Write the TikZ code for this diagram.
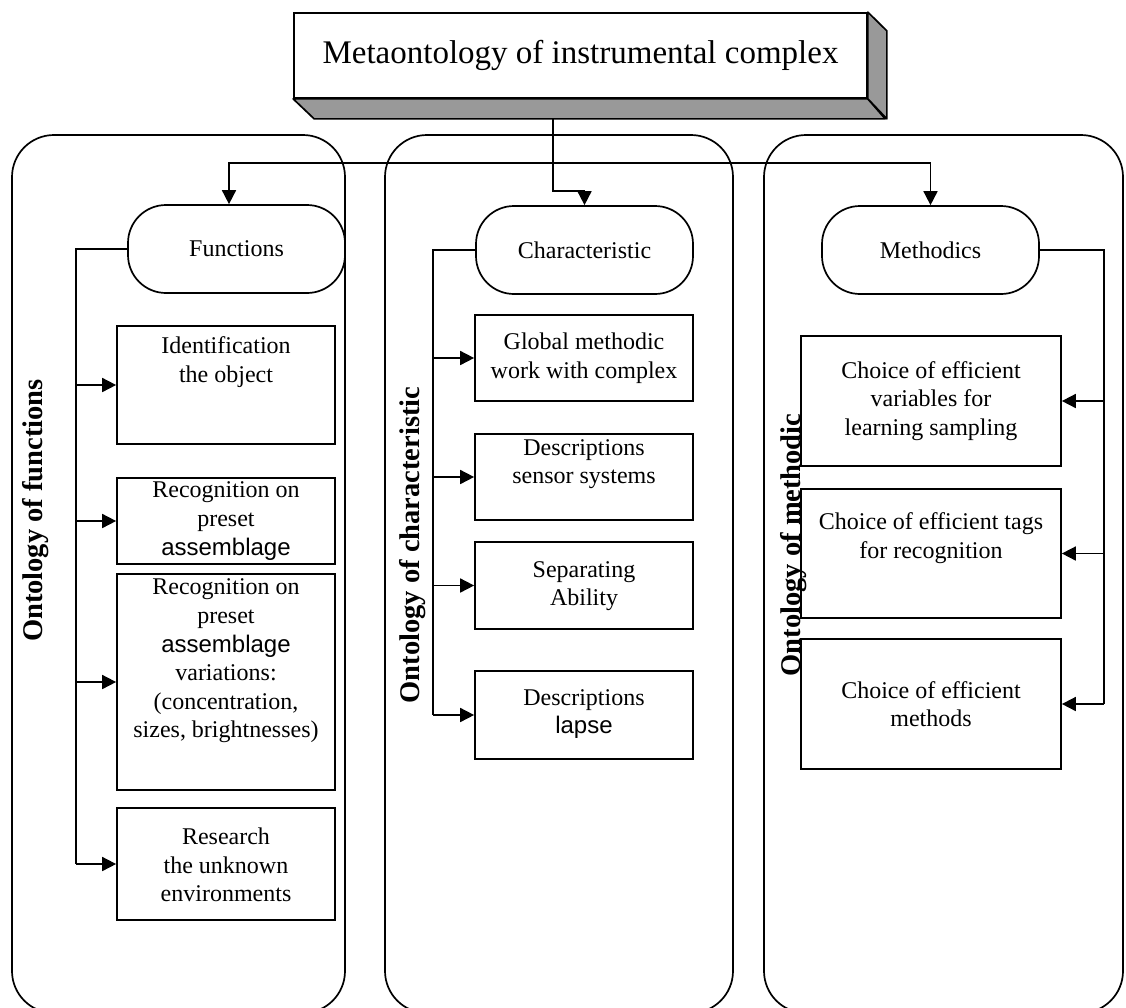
\documentclass[tikz,border=0pt]{standalone}
\usepackage{fontspec}
\setmainfont{Liberation Serif}
\newfontfamily\sansfam{Liberation Sans}
\usetikzlibrary{arrows.meta}
\definecolor{shade}{RGB}{153,153,153}
\tikzset{
  line/.style={line width=1.7pt},
  arr/.style={line, -{Triangle[length=14pt,width=14pt]}},
  frame/.style={line, rounded corners=42pt},
  boxnode/.style={draw, line width=1.7pt, inner sep=0pt},
  term/.style={draw, line width=1.7pt, rounded corners=38pt, minimum width=217pt,
    minimum height=88pt, inner sep=0pt, font=\fontsize{24}{28.6}\selectfont},
  txt/.style={align=center, inner sep=0pt, font=\fontsize{24}{28.6}\selectfont},
  vlabel/.style={rotate=90, anchor=base, inner sep=0pt,
    font=\fontsize{28.5}{34}\selectfont\bfseries},
}
\begin{document}
\begin{tikzpicture}[x=1pt,y=-1pt]
\path[use as bounding box] (0,0) rectangle (1126,1007);
\clip (0,0) rectangle (1126,1007);
\fill[white] (0,0) rectangle (1126,1007);

% three rounded column frames
\draw[frame] (12,135) rectangle (345,1013);
\draw[frame] (385,135) rectangle (733,1013);
\draw[frame] (764,135) rectangle (1123,1013);

% title block with extruded bottom and right faces
\node[boxnode, minimum width=573pt, minimum height=85pt, fill=white,
  font=\fontsize{33}{40}\selectfont] (meta) at (580.5,55.5) {Metaontology of instrumental complex};
\draw[line, fill=shade, line join=round] (meta.south west) -- ++(21,20) -- ++(571,0) -- (meta.south east) -- cycle;
\draw[line, fill=shade, line join=round] (meta.south east) -- ++(19,20) -- ++(0,-88) -- (meta.north east) -- cycle;

% terminals
\node[term] (fn) at (236.5,249) {Functions};
\node[term] (ch) at (584.5,250) {Characteristic};
\node[term] (me) at (930.5,250) {Methodics};

% distribution from the title block
\coordinate (j) at (553,163);
\draw[arr] ([yshift=-20pt]meta.south -| j) -- (j) |- ([yshift=14pt]ch.north) -- (ch.north);
\draw[arr] (j) -| ([xshift=-7.5pt]fn.north);
\draw[arr] (j) -| (me.north);

% functions column
\node[boxnode, minimum width=218pt, minimum height=118pt] (id) at (226,385) {};
\node[txt] (idt) at (226,362) {Identification\\the object};
\node[boxnode, minimum width=218pt, minimum height=86pt] (r1) at (226,521) {};
\node[txt] (r1t) at (226,521) {Recognition on\\preset\\{\sansfam assemblage}};
\node[boxnode, minimum width=218pt, minimum height=216pt] (r2) at (226,682) {};
\node[txt] (r2t) at (226,661) {Recognition on\\preset\\{\sansfam assemblage}\\variations:\\(concentration,\\sizes, brightnesses)};
\node[boxnode, minimum width=218pt, minimum height=112pt] (rs) at (226,864) {};
\node[txt] (rst) at (226,865) {Research\\the unknown\\environments};

\coordinate (lb) at (76,0);
\draw[line] (fn.west) -| (lb |- rs.west);
\foreach \b in {id,r1,r2,rs} \draw[arr] (lb |- \b.west) -- (\b.west);

% characteristic column
\node[boxnode, minimum width=218pt, minimum height=86pt] (gl) at (584,358) {};
\node[txt] (glt) at (584,358) {Global methodic\\work with complex};
\node[boxnode, minimum width=218pt, minimum height=86pt] (ds) at (584,477) {};
\node[txt] (dst) at (584,464) {Descriptions\\sensor systems};
\node[boxnode, minimum width=218pt, minimum height=87pt] (sp) at (584,585.5) {};
\node[txt] (spt) at (584,586) {Separating\\Ability};
\node[boxnode, minimum width=218pt, minimum height=88pt] (dl) at (584,715) {};
\node[txt] (dlt) at (584,714) {Descriptions\\{\sansfam lapse}};

\coordinate (mb) at (433,0);
\draw[line] (ch.west) -| (mb |- dl.west);
\foreach \b in {gl,ds,sp,dl} \draw[arr] (mb |- \b.west) -- (\b.west);

% methodics column
\node[boxnode, minimum width=260pt, minimum height=130pt] (c1) at (931,401) {};
\node[txt] (c1t) at (931,401) {Choice of efficient\\variables for\\learning sampling};
\node[boxnode, minimum width=260pt, minimum height=129pt] (c2) at (931,553.5) {};
\node[txt] (c2t) at (931,538) {Choice of efficient tags\\for recognition};
\node[boxnode, minimum width=260pt, minimum height=130pt] (c3) at (931,704) {};
\node[txt] (c3t) at (931,704) {Choice of efficient\\methods};

\coordinate (rb) at (1104,0);
\draw[line] (me.east) -| (rb |- c3.east);
\foreach \b in {c1,c2,c3} \draw[arr] (rb |- \b.east) -- (\b.east);

% column captions
\node[vlabel] (vf) at (42,510.5) {Ontology of functions};
\node[vlabel] (vc) at (419,545) {Ontology of characteristic};
\node[vlabel] (vm) at (800,545) {Ontology of methodic};
\end{tikzpicture}
\end{document}
